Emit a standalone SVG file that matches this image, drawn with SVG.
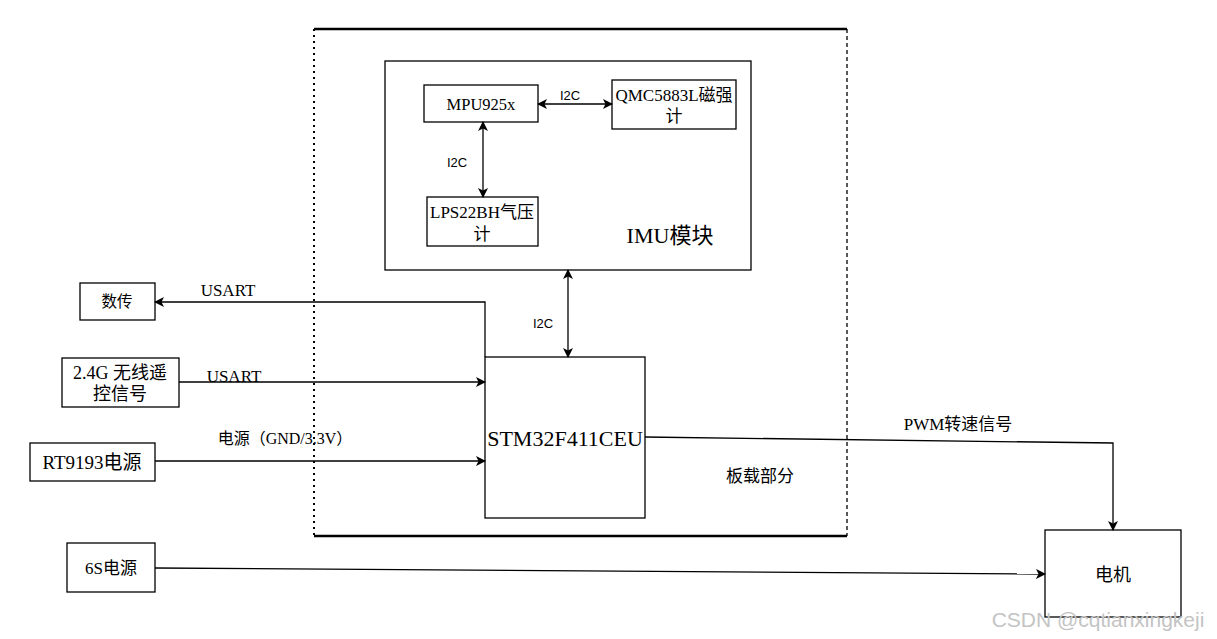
<svg xmlns="http://www.w3.org/2000/svg" width="1217" height="639" viewBox="0 0 1217 639">
<style>
.box{fill:#fff;stroke:#000;stroke-width:1.3}
.t{font-family:"Liberation Serif","Noto Sans CJK SC",serif;fill:#000}
.s{font-family:"Liberation Sans","Noto Sans CJK SC",sans-serif;fill:#000}
.c{fill:none;stroke:#000;stroke-width:1.3}
</style>
<defs>
<marker id="ah" viewBox="0 0 10 10" refX="9" refY="5" markerWidth="10" markerHeight="10" markerUnits="userSpaceOnUse" orient="auto-start-reverse">
<path d="M0,0 L10,5 L0,10 L2.5,5 z" fill="#000"/>
</marker>
</defs>
<rect width="1217" height="639" fill="#fff"/>
<g id="board">
<line x1="314" y1="29" x2="847" y2="29" stroke="#000" stroke-width="2.5"/>
<line x1="314" y1="536" x2="847" y2="536" stroke="#000" stroke-width="2.5"/>
<line x1="314" y1="29" x2="314" y2="536" stroke="#000" stroke-width="2" stroke-dasharray="2,4"/>
<line x1="847" y1="29" x2="847" y2="536" stroke="#000" stroke-width="1.3" stroke-dasharray="4,3"/>
<text class="s" x="760" y="482" font-size="17" text-anchor="middle">板载部分</text>
</g>
<g id="imu">
<rect class="box" x="385" y="61" width="366" height="209"/>
<text class="t" x="670" y="243" font-size="22" text-anchor="middle">IMU模块</text>
</g>
<g id="mpu">
<rect class="box" x="424" y="85" width="114" height="37"/>
<text class="t" x="481" y="110" font-size="16.5" text-anchor="middle">MPU925x</text>
</g>
<g id="qmc">
<rect class="box" x="612" y="80" width="124" height="49"/>
<text class="t" x="674" y="101" font-size="17" text-anchor="middle">QMC5883L磁强</text>
<text class="t" x="674" y="122" font-size="17" text-anchor="middle">计</text>
</g>
<g id="lps">
<rect class="box" x="427" y="197" width="111" height="49"/>
<text class="t" x="482" y="218" font-size="17" text-anchor="middle">LPS22BH气压</text>
<text class="t" x="482" y="240" font-size="17" text-anchor="middle">计</text>
</g>
<g id="stm">
<rect class="box" x="485" y="357" width="160" height="161"/>
<text class="t" x="565" y="446" font-size="22" text-anchor="middle">STM32F411CEU</text>
</g>
<g id="shuchuan">
<rect class="box" x="80" y="283" width="75" height="37"/>
<text class="s" x="117" y="307" font-size="15.5" text-anchor="middle">数传</text>
</g>
<g id="remote">
<rect class="box" x="62" y="358" width="117" height="49"/>
<text class="t" x="120" y="379" font-size="18" text-anchor="middle">2.4G 无线遥</text>
<text class="t" x="120" y="400" font-size="18" text-anchor="middle">控信号</text>
</g>
<g id="rt9193">
<rect class="box" x="30" y="443" width="125" height="38"/>
<text class="t" x="92" y="469" font-size="19" text-anchor="middle">RT9193电源</text>
</g>
<g id="bat">
<rect class="box" x="67" y="543" width="88" height="49"/>
<text class="t" x="111" y="574" font-size="17" text-anchor="middle">6S电源</text>
</g>
<g id="motor">
<rect class="box" x="1045" y="530" width="136" height="87"/>
<text class="s" x="1113" y="581" font-size="18" text-anchor="middle">电机</text>
</g>
<g id="connectors">
<line class="c" x1="538" y1="104" x2="612" y2="104" marker-start="url(#ah)" marker-end="url(#ah)"/>
<line class="c" x1="483" y1="122" x2="483" y2="197" marker-start="url(#ah)" marker-end="url(#ah)"/>
<line class="c" x1="568" y1="270" x2="568" y2="357" marker-start="url(#ah)" marker-end="url(#ah)"/>
<polyline class="c" points="485,357 485,302 155,302" marker-end="url(#ah)"/>
<line class="c" x1="179" y1="382" x2="485" y2="382" marker-end="url(#ah)"/>
<line class="c" x1="155" y1="461" x2="485" y2="461" marker-end="url(#ah)"/>
<polyline class="c" points="645,437 1113,443 1113,530" marker-end="url(#ah)"/>
<line class="c" x1="155" y1="568" x2="1045" y2="574" marker-end="url(#ah)"/>
<text class="s" x="570" y="100" font-size="13" text-anchor="middle">I2C</text>
<text class="s" x="457" y="167" font-size="13" text-anchor="middle">I2C</text>
<text class="s" x="543" y="328" font-size="13" text-anchor="middle">I2C</text>
<text class="t" x="228" y="296" font-size="17" text-anchor="middle">USART</text>
<text class="t" x="234" y="382" font-size="17" text-anchor="middle">USART</text>
<text class="t" x="285" y="444" font-size="16" text-anchor="middle">电源（GND/3.3V）</text>
<text class="t" x="958" y="430" font-size="17" text-anchor="middle">PWM转速信号</text>
</g>
<text class="s" x="1098" y="627" font-size="21" text-anchor="middle" style="fill:#c4c4c4">CSDN @cqtianxingkeji</text>
</svg>
